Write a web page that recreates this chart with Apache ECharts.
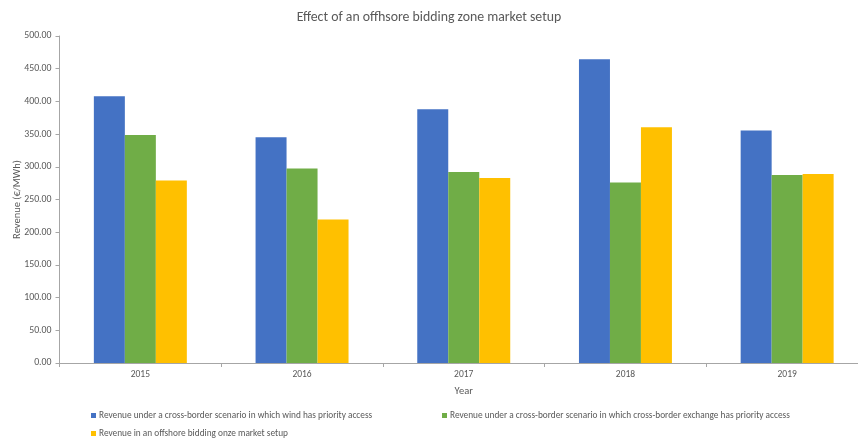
<!DOCTYPE html>
<html>
<head>
<meta charset="utf-8">
<script src="https://cdn.jsdelivr.net/npm/echarts@6/dist/echarts.min.js"></script>
<style>
  html, body { margin: 0; padding: 0; background: #fff; }
  #chart { width: 858px; height: 443px; }
</style>
</head>
<body>
<div id="chart"></div>
<script>
// Revenue per year for three market setups (€/MWh)
const years = ['2015', '2016', '2017', '2018', '2019'];
const windPriority = [408, 345, 388, 464.5, 355.5];
const exchangePriority = [348.5, 297.5, 292, 276, 287.5];
const offshoreZone = [279, 219.5, 283, 360.5, 289];

const seriesNames = [
  'Revenue under a cross-border scenario in which wind has priority access',
  'Revenue under a cross-border scenario in which cross-border exchange has priority access',
  'Revenue in an offshore bidding onze market setup'
];
const colors = ['#4472C4', '#70AD47', '#FFC000'];

const FONT = "Carlito, 'Liberation Sans', Arial, sans-serif";
const TEXT = '#595959';
const AXIS = '#a6a6a6';

const legendBase = {
  icon: 'rect',
  itemWidth: 5,
  itemHeight: 5,
  itemGap: 0,
  selectedMode: false,
  padding: 0,
  textStyle: { fontFamily: FONT, fontSize: 9.3, color: TEXT, padding: [0, 0, 0, -2] }
};

const chart = echarts.init(document.getElementById('chart'), null, { renderer: 'canvas' });
chart.setOption({
  animation: false,
  color: colors,
  title: {
    text: 'Effect of an offhsore bidding zone market setup',
    left: 'center',
    top: 6,
    textStyle: { fontFamily: FONT, fontSize: 13.8, fontWeight: 'normal', color: TEXT }
  },
  legend: [
    Object.assign({}, legendBase, { data: [seriesNames[0]], left: 91, top: 411 }),
    Object.assign({}, legendBase, { data: [seriesNames[1]], left: 442, top: 411 }),
    Object.assign({}, legendBase, { data: [seriesNames[2]], left: 91, top: 429 })
  ],
  // the plot runs a little past the right edge of the canvas
  grid: {
    left: 59.5, right: -10, top: 36, bottom: 80,
    containLabel: false, outerBoundsMode: 'none'
  },
  xAxis: {
    type: 'category',
    data: years,
    name: 'Year',
    nameLocation: 'middle',
    nameGap: 23,
    nameMoveOverlap: false,
    nameTextStyle: { fontFamily: FONT, fontSize: 10.5, color: TEXT },
    axisLine: { lineStyle: { color: AXIS, width: 1 } },
    axisTick: { show: true, length: 4, lineStyle: { color: AXIS } },
    axisLabel: { fontFamily: FONT, fontSize: 9.5, color: TEXT, margin: 7 }
  },
  yAxis: {
    type: 'value',
    min: 0,
    max: 500,
    interval: 50,
    name: 'Revenue (€/MWh)',
    nameLocation: 'middle',
    nameGap: 37,
    nameMoveOverlap: false,
    nameRotate: 90,
    nameTextStyle: { fontFamily: FONT, fontSize: 10.5, color: TEXT },
    axisLine: { show: true, lineStyle: { color: AXIS, width: 1 } },
    axisTick: { show: true, length: 4, lineStyle: { color: AXIS } },
    splitLine: { show: false },
    axisLabel: {
      fontFamily: FONT, fontSize: 9.8, color: TEXT, margin: 8,
      formatter: v => v.toFixed(2)
    }
  },
  series: [
    { name: seriesNames[0], type: 'bar', data: windPriority, barGap: '0%', barCategoryGap: '42.5%' },
    { name: seriesNames[1], type: 'bar', data: exchangePriority, barGap: '0%', barCategoryGap: '42.5%' },
    { name: seriesNames[2], type: 'bar', data: offshoreZone, barGap: '0%', barCategoryGap: '42.5%' }
  ]
});
</script>
</body>
</html>
